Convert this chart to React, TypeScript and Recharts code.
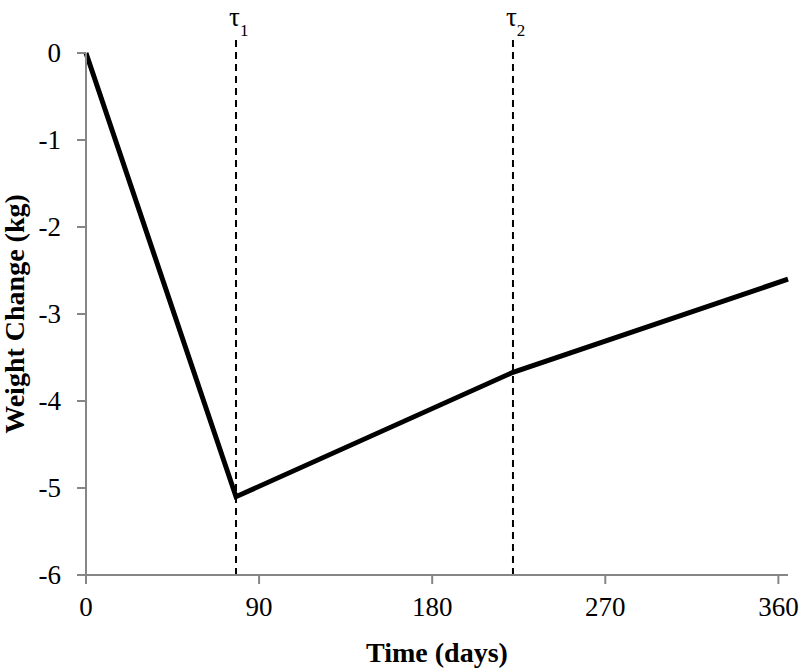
import { CartesianGrid, Line, LineChart, ReferenceLine, XAxis, YAxis } from "recharts";

const days = [0, 78, 222, 365];
const weightChange = [0, -5.1, -3.67, -2.6];
const xTicks = [0, 90, 180, 270, 360];
const yTicks = [-6, -5, -4, -3, -2, -1, 0];
const breakpoints = [
  { day: 78, sub: "1" },
  { day: 222, sub: "2" }
];

const data = days.map((day, i) => ({ day, value: weightChange[i] }));

const font = "'Liberation Serif', 'Times New Roman', serif";
const axisGray = "#868686";

function TauLabel({ x, y, sub }: { x: number; y: number; sub: string }) {
  return (
    <text x={x - 7} y={y - 14} textAnchor="start" fontFamily={font} fill="#000">
      <tspan fontSize={27}>τ</tspan>
      <tspan fontSize={17} dy={10}>{sub}</tspan>
    </text>
  );
}

function XTick(props: any) {
  const { x, y, payload } = props;
  return (
    <text x={x} y={y + 30} textAnchor="middle" fontFamily={font} fontSize={27} fill="#000">
      {payload.value}
    </text>
  );
}

function YTick(props: any) {
  const { x, y, payload } = props;
  return (
    <text x={x - 14} y={y + 9} textAnchor="end" fontFamily={font} fontSize={27} fill="#000">
      {payload.value}
    </text>
  );
}

export default function App() {
  return (
    <div style={{ position: "absolute", left: 0, top: 0, background: "#fff", fontFamily: font }}>
      <LineChart
        width={800}
        height={670}
        data={data}
        margin={{ top: 53, right: 12, bottom: 0, left: 0 }}
        style={{ fontFamily: font }}
      >
        <CartesianGrid stroke="none" />
        <XAxis
          dataKey="day"
          type="number"
          domain={[0, 365]}
          ticks={xTicks}
          height={95}
          stroke={axisGray}
          strokeWidth={2}
          tickSize={9}
          tick={<XTick />}
          label={{
            value: "Time (days)",
            position: "insideBottom",
            offset: 8,
            fill: "#000",
            fontSize: 28,
            fontWeight: "bold",
            fontFamily: font
          }}
        />
        <YAxis
          type="number"
          domain={[-6, 0]}
          ticks={yTicks}
          width={86}
          stroke={axisGray}
          strokeWidth={2}
          tickSize={9}
          tick={<YTick />}
          label={{
            value: "Weight Change (kg)",
            angle: -90,
            position: "insideLeft",
            offset: 14,
            style: { textAnchor: "middle" },
            fill: "#000",
            fontSize: 28,
            fontWeight: "bold",
            fontFamily: font
          }}
        />
        {breakpoints.map((b) => (
          <ReferenceLine
            key={b.sub}
            segment={[
              { x: b.day, y: -6 },
              { x: b.day, y: 0.15 }
            ]}
            ifOverflow="visible"
            stroke="#000"
            strokeWidth={2}
            strokeDasharray="7 5"
            label={(props: any) => <TauLabel x={props.viewBox.x} y={props.viewBox.y} sub={b.sub} />}
          />
        ))}
        <Line
          dataKey="value"
          type="linear"
          stroke="#000"
          strokeWidth={5}
          dot={false}
          isAnimationActive={false}
        />
      </LineChart>
    </div>
  );
}
